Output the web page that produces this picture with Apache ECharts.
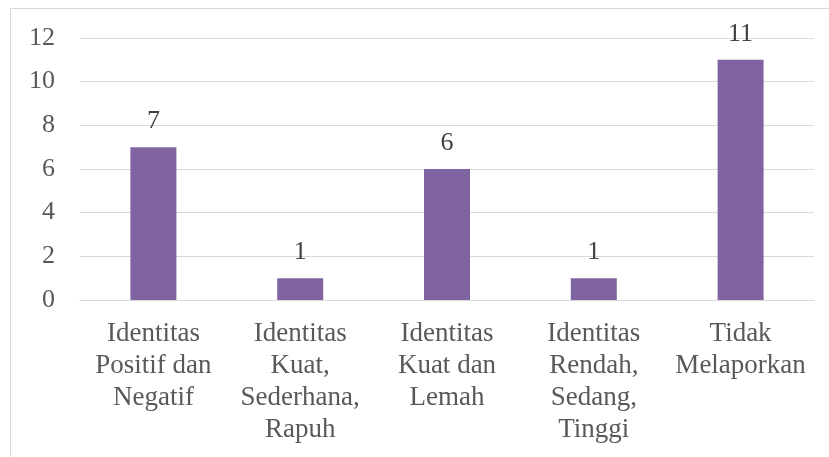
<!DOCTYPE html>
<html><head><meta charset="utf-8">
<script src="https://cdn.jsdelivr.net/npm/echarts@6/dist/echarts.min.js"></script>
<style>html,body{margin:0;padding:0;background:#fff}#c{width:829px;height:457px}</style>
</head><body><div id="c"></div>
<script>
const categories = ["Identitas\nPositif dan\nNegatif", "Identitas\nKuat,\nSederhana,\nRapuh", "Identitas\nKuat dan\nLemah", "Identitas\nRendah,\nSedang,\nTinggi", "Tidak\nMelaporkan"];
const values = [7, 1, 6, 1, 11];
const yTicks = [0, 2, 4, 6, 8, 10, 12];
const font = "'Times New Roman', 'Liberation Serif', serif";
const chart = echarts.init(document.getElementById('c'));
chart.setOption({
  animation: false,
  textStyle: {fontFamily: font},
  graphic: [{type: 'rect', shape: {x: 10.5, y: 8.5, width: 830, height: 470}, style: {fill: 'none', stroke: '#d9d9d9', lineWidth: 1}, silent: true}],
  grid: {left: 80, right: 15, top: 38, bottom: 157},
  xAxis: {
    type: 'category', data: categories,
    axisLine: {lineStyle: {color: '#d9d9d9', width: 1}},
    axisTick: {show: false},
    axisLabel: {interval: 0, color: '#595959', fontFamily: font, fontSize: 27, lineHeight: 32, margin: 18}
  },
  yAxis: {
    type: 'value', min: yTicks[0], max: yTicks[yTicks.length - 1], interval: 2,
    axisLine: {show: false}, axisTick: {show: false},
    splitLine: {lineStyle: {color: '#d9d9d9', width: 1}},
    axisLabel: {color: '#595959', fontFamily: font, fontSize: 26, margin: 25}
  },
  series: [{
    type: 'bar', data: values, barWidth: 46,
    itemStyle: {color: '#8064a2'},
    label: {show: true, position: 'top', distance: 13, color: '#404040', fontFamily: font, fontSize: 26}
  }]
});
</script></body></html>
